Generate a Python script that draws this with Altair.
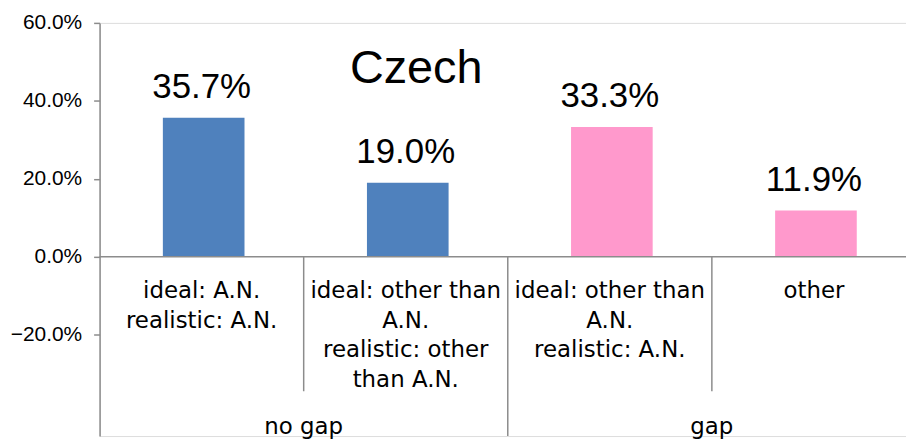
import altair as alt
import pandas as pd

groups = ["no gap", "no gap", "gap", "gap"]
categories = [
    "ideal: A.N.\nrealistic: A.N.",
    "ideal: other than\nA.N.\nrealistic: other\nthan A.N.",
    "ideal: other than\nA.N.\nrealistic: A.N.",
    "other",
]
values = [0.357, 0.190, 0.333, 0.119]
bar_colors = ["#4F81BD", "#4F81BD", "#FF99CC", "#FF99CC"]
group_names = ["no gap", "gap"]
title_text = "Czech"
y_ticks = [-0.2, 0.0, 0.2, 0.4, 0.6]

W = 810
H = 415
CAT_W = 205.0

df = pd.DataFrame({"group": groups, "cat": categories, "value": values, "color": bar_colors})
df["pos"] = range(len(df))
df["center"] = df["pos"] + 0.5
df["x0"] = df["pos"] + 0.31
df["x1"] = df["pos"] + 0.71

gdf = pd.DataFrame({"group": group_names})
gdf["center"] = [df.loc[df.group == g, "center"].mean() for g in group_names]

div_rows = []
for i in range(1, len(df)):
    div_rows.append({"x": float(i), "long": groups[i] != groups[i - 1]})
ddf = pd.DataFrame(div_rows)
short_df = ddf[~ddf["long"]][["x"]]
long_df = ddf[ddf["long"]][["x"]]

xs = alt.Scale(domain=[0, W / CAT_W], nice=False, zero=False)
ys = alt.Scale(domain=[-(H - 235) / (235 / 0.6), 0.6], nice=False, zero=False)

GRAY = "#8c8c8c"
NUMFONT = "Liberation Sans"
LBLFONT = "DejaVu Sans"

base = alt.Chart(df)

bars = base.mark_bar(stroke=None).encode(
    x=alt.X("x0:Q", scale=xs, axis=None),
    x2="x1:Q",
    y=alt.Y("value:Q", scale=ys,
            axis=alt.Axis(values=y_ticks, format=".1%", grid=False, title=None,
                          domainColor=GRAY, tickColor=GRAY, domainWidth=1.5, tickWidth=1.5,
                          tickSize=6, labelFontSize=21, labelFont=NUMFONT,
                          labelColor="black", labelPadding=12)),
    y2=alt.datum(0),
    color=alt.Color("color:N", scale=None),
)

vlabels = base.mark_text(fontSize=35, font=NUMFONT, baseline="alphabetic", dy=-20, color="black").encode(
    x=alt.X("center:Q", scale=xs),
    y=alt.Y("value:Q", scale=ys),
    text=alt.Text("value:Q", format=".1%"),
)

zero = alt.Chart(pd.DataFrame({"z": [0.0]})).mark_rule(color=GRAY, strokeWidth=1.5).encode(
    y=alt.Y("z:Q", scale=ys)
)

div_short = alt.Chart(short_df).mark_rule(color=GRAY, strokeWidth=1.5).encode(
    x=alt.X("x:Q", scale=xs), y=alt.value(235), y2=alt.value(370)
)
div_long = alt.Chart(long_df).mark_rule(color=GRAY, strokeWidth=1.5).encode(
    x=alt.X("x:Q", scale=xs), y=alt.value(235), y2=alt.value(H)
)

catlabels = base.mark_text(fontSize=23, font=LBLFONT, lineBreak="\n", lineHeight=30,
                           baseline="alphabetic", color="black").encode(
    x=alt.X("center:Q", scale=xs),
    y=alt.value(276),
    text="cat:N",
)

glabels = alt.Chart(gdf).mark_text(fontSize=23, font=LBLFONT, baseline="alphabetic", color="black").encode(
    x=alt.X("center:Q", scale=xs),
    y=alt.value(413),
    text="group:N",
)

title = alt.Chart(pd.DataFrame({"t": [title_text]})).mark_text(
    fontSize=47, font="Liberation Sans", baseline="alphabetic", color="black"
).encode(x=alt.value(318), y=alt.value(60), text="t:N")

chart = alt.layer(bars, zero, div_short, div_long, vlabels, catlabels, glabels, title).properties(
    width=W, height=H,
    autosize=alt.AutoSizeParams(type="none"),
    padding={"left": 92, "top": 14, "right": 0, "bottom": 2},
).configure_view(stroke=None).configure(background="white")

chart.save("out.html", embed_options={"renderer": "svg", "actions": False})
